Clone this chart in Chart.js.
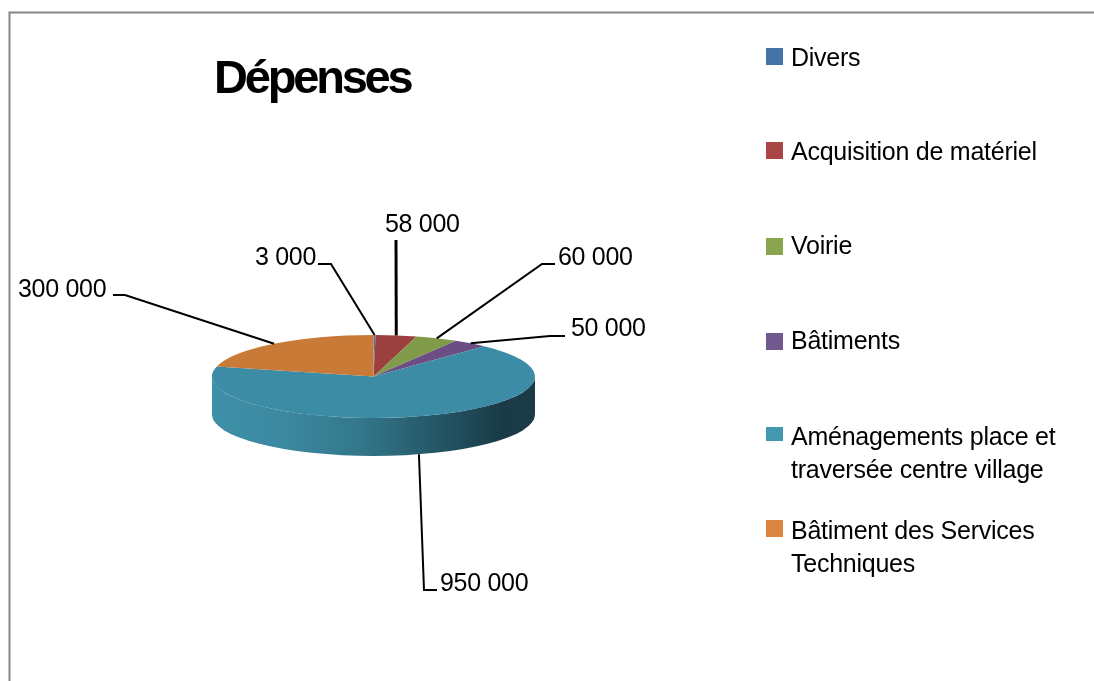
<!DOCTYPE html>
<html>
<head>
<meta charset="utf-8">
<title>Dépenses</title>
<script src="https://cdn.jsdelivr.net/npm/chart.js@4"></script>
<style>
    html, body { margin: 0; padding: 0; background: #fff; overflow: hidden; }
    canvas { display: block; }
</style>
</head>
<body>
<canvas id="pieChart" width="1094" height="681"></canvas>
<script>
const chartTitle = 'Dépenses';
const categories = [
    'Divers',
    'Acquisition de matériel',
    'Voirie',
    'Bâtiments',
    ['Aménagements place et', 'traversée centre village'],
    ['Bâtiment des Services', 'Techniques'],
];
const depenses = [3000, 58000, 60000, 50000, 950000, 300000];

// slice colours on the lit top face, and the brighter ones used in the legend
const sliceColors = ['#5b7399', '#9c3f3f', '#809b4a', '#6c4e85', '#3d8ca5', '#c97a37'];
const legendColors = ['#4572a7', '#aa4643', '#89a54e', '#71588f', '#4198af', '#db843d'];

// hand placed: legend rows
const legendSwatchY = [48, 142, 238, 333, 427, 520];
const legendSwatchH = [17, 17, 17, 17, 14, 17];
const legendTextY = [66, 160, 254, 349, 445, 539];

// hand placed: value label left edge / baseline, then leader elbow points
const labelX = [255, 385, 558, 571, 440, 18];
const labelY = [265, 232, 265, 336, 591, 297];
const elbows = [
    [[331, 264], [318, 264]],
    [[396, 240]],
    [[542, 264], [555, 264]],
    [[550, 336], [565, 336]],
    [[424, 590], [437, 590]],
    [[125, 295], [113, 295]],
];
const leaderWidths = [2, 3, 2, 2, 2, 2];

const centerX = 373.5;
const centerY = 376.5;
const radius = 161.5;
const squash = 41.5 / 161.5;
const depth = 38;
const legendFont = '25px "Liberation Sans", Arial, sans-serif';

const formatValue = (v) => String(v).replace(/\B(?=(\d{3})+$)/g, ' ');

function sideWall(ctx, arc) {
    // only the part of a slice facing the viewer gets a wall (lower half of the ellipse)
    const start = Math.max(arc.startAngle, 0);
    const end = Math.min(arc.endAngle, Math.PI);
    if (end <= start) return;
    const grad = ctx.createLinearGradient(centerX - radius, 0, centerX + radius, 0);
    grad.addColorStop(0, '#3e8fa8');
    grad.addColorStop(0.2, '#3c8aa1');
    grad.addColorStop(0.45, '#33788c');
    grad.addColorStop(0.7, '#245666');
    grad.addColorStop(0.9, '#1a3a47');
    grad.addColorStop(1, '#1b3b48');
    ctx.beginPath();
    ctx.ellipse(centerX, centerY, radius, radius * squash, 0, start, end);
    ctx.ellipse(centerX, centerY + depth, radius, radius * squash, 0, end, start, true);
    ctx.closePath();
    ctx.fillStyle = grad;
    ctx.fill();
}

const pieExtras = {
    id: 'pieExtras',
    beforeDraw(chart) {
        const ctx = chart.ctx;
        ctx.save();
        ctx.strokeStyle = '#868686';
        ctx.lineWidth = 2;
        ctx.beginPath();
        ctx.moveTo(9.5, 681);
        ctx.lineTo(9.5, 12.5);
        ctx.lineTo(1094, 12.5);
        ctx.stroke();
        ctx.restore();
    },
    beforeDatasetsDraw(chart) {
        const ctx = chart.ctx;
        const arcs = chart.getDatasetMeta(0).data;
        arcs.forEach(arc => sideWall(ctx, arc));
        // squash the round pie into the tilted top face
        ctx.save();
        ctx.translate(arcs[0].x, centerY);
        ctx.scale(1, squash);
        ctx.translate(-arcs[0].x, -arcs[0].y);
    },
    afterDatasetsDraw(chart) {
        const ctx = chart.ctx;
        ctx.restore();

        ctx.save();
        ctx.textBaseline = 'alphabetic';
        ctx.textAlign = 'left';
        ctx.fillStyle = '#000';

        // title
        ctx.font = 'bold 47px "Liberation Sans", Arial, sans-serif';
        ctx.letterSpacing = '-3.2px';
        ctx.fillText(chartTitle, 214, 93);

        ctx.font = legendFont;

        // value labels and leader lines
        ctx.letterSpacing = '-0.3px';
        chart.getDatasetMeta(0).data.forEach((arc, i) => {
            const mid = (arc.startAngle + arc.endAngle) / 2;
            const front = Math.sin(mid) > 0;
            ctx.beginPath();
            ctx.moveTo(centerX + radius * Math.cos(mid),
                centerY + radius * squash * Math.sin(mid) + (front ? depth : 0));
            elbows[i].forEach(p => ctx.lineTo(p[0], p[1]));
            ctx.strokeStyle = '#000';
            ctx.lineWidth = leaderWidths[i];
            ctx.stroke();
            ctx.fillText(formatValue(depenses[i]), labelX[i], labelY[i]);
        });

        // legend
        ctx.letterSpacing = '-0.25px';
        categories.forEach((cat, i) => {
            ctx.fillStyle = legendColors[i];
            ctx.fillRect(766, legendSwatchY[i], 17, legendSwatchH[i]);
            ctx.fillStyle = '#000';
            [].concat(cat).forEach((line, n) => {
                ctx.fillText(line, 791, legendTextY[i] + n * 32.5);
            });
        });
        ctx.restore();
    },
};

new Chart(document.getElementById('pieChart').getContext('2d'), {
    type: 'pie',
    data: {
        labels: categories,
        datasets: [{
            data: depenses,
            backgroundColor: sliceColors,
            borderWidth: 0,
        }],
    },
    options: {
        responsive: false,
        animation: false,
        layout: {
            padding: {
                left: centerX - radius,
                right: 1094 - centerX - radius,
                top: centerY - radius,
                bottom: 681 - centerY - radius,
            },
        },
        plugins: {
            legend: { display: false },
            title: { display: false },
            tooltip: { enabled: false },
        },
    },
    plugins: [pieExtras],
});
</script>
</body>
</html>
